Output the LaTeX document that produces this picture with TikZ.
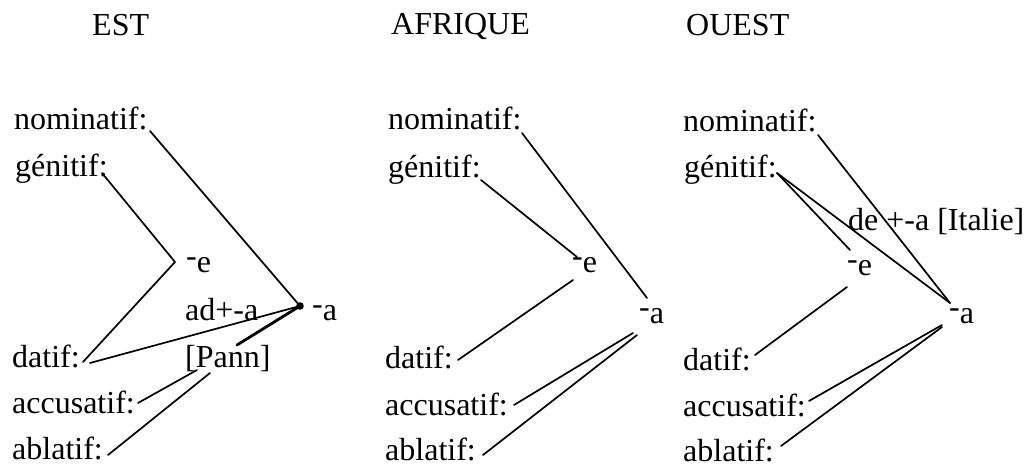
\documentclass[tikz,border=0pt]{standalone}
\usepackage{fontspec}
\setmainfont{Liberation Serif}
\begin{document}
\begin{tikzpicture}[x=1pt,y=-1pt,
  lbl/.style={anchor=base west,inner sep=0pt,font=\fontsize{32}{38}\selectfont},
  conn/.style={line width=1.7pt,line cap=round},
  thick conn/.style={line width=2.8pt,line cap=round}]
\newcommand{\hi}{\raisebox{0.17em}{-}}
\useasboundingbox (0,0) rectangle (1031,468);
% ---------------- EST ----------------
\node[lbl] (tE) at (92,36) {EST};
\node[lbl] (nomE) at (14,130) {nominatif:};
\node[lbl] (genE) at (15,177) {génitif:};
\node[lbl] (datE) at (12,367) {datif:};
\node[lbl] (accE) at (12,413) {accusatif:};
\node[lbl] (ablE) at (12,459) {ablatif:};
\node[lbl] (eE) at (186,272) {\hi e};
\node[lbl] (adE) at (185,320) {ad+-a};
\node[lbl] (aE) at (312,320) {\hi a};
\node[lbl] (pannE) at (185,367) {[Pann]};
\coordinate (vE) at (175,262);
\coordinate (AE) at (300,306);
\coordinate (nomEx) at (150,131);
\coordinate (genEx) at (102,173);
\coordinate (datEx1) at (83,362);
\coordinate (datEx2) at (90,363);
\coordinate (pannEx) at (237,345);
\coordinate (pannEa) at (197,370);
\coordinate (pannEb) at (210,373);
\coordinate (accEx) at (138,403);
\coordinate (ablEx) at (108,455);
\draw[conn] (nomEx) -- (AE);
\draw[conn] (genEx) -- (vE) -- (datEx1);
\draw[conn] (datEx2) -- (AE);
\draw[thick conn] (pannEx) -- (AE);
\fill (AE) circle (3.8);
\draw[conn] (accEx) -- (pannEa);
\draw[conn] (ablEx) -- (pannEb);
% ---------------- AFRIQUE ----------------
\node[lbl] (tA) at (391,35) {AFRIQUE};
\node[lbl] (nomA) at (388,130) {nominatif:};
\node[lbl] (genA) at (388,178) {génitif:};
\node[lbl] (datA) at (385,368) {datif:};
\node[lbl] (accA) at (385,415) {accusatif:};
\node[lbl] (ablA) at (385,460) {ablatif:};
\node[lbl] (eA) at (572,272) {\hi e};
\node[lbl] (aA) at (639,323) {\hi a};
\coordinate (nomAx) at (522,133);
\coordinate (nomAy) at (647,298);
\coordinate (genAx) at (481,180);
\coordinate (eAt) at (577,257);
\coordinate (eAb) at (573,280);
\coordinate (datAx) at (458,360);
\coordinate (aAb1) at (633,333);
\coordinate (aAb2) at (637,335);
\coordinate (accAx) at (514,405);
\coordinate (ablAx) at (483,455);
\draw[conn] (nomAx) -- (nomAy);
\draw[conn] (genAx) -- (eAt);
\draw[conn] (eAb) -- (datAx);
\draw[conn] (accAx) -- (aAb1);
\draw[conn] (ablAx) -- (aAb2);
% ---------------- OUEST ----------------
\node[lbl] (tO) at (686,36) {OUEST};
\node[lbl] (nomO) at (683,132) {nominatif:};
\node[lbl] (genO) at (684,178) {génitif:};
\node[lbl] (datO) at (683,370) {datif:};
\node[lbl] (accO) at (683,416) {accusatif:};
\node[lbl] (ablO) at (683,461) {ablatif:};
\node[lbl] (deO) at (848,230) {de +-a [Italie]};
\node[lbl] (eO) at (847,275) {\hi e};
\node[lbl] (aO) at (949,323) {\hi a};
\coordinate (nomOx) at (818,135);
\coordinate (AO) at (950,303);
\coordinate (genOx) at (777,173);
\coordinate (eOt) at (850,250);
\coordinate (eOb) at (847,287);
\coordinate (datOx) at (755,355);
\coordinate (aOb1) at (942,325);
\coordinate (aOb2) at (942,327);
\coordinate (accOx) at (809,401);
\coordinate (ablOx) at (781,446);
\draw[conn] (nomOx) -- (AO);
\draw[conn] (genOx) -- (eOt);
\draw[conn] (genOx) -- (AO);
\draw[conn] (eOb) -- (datOx);
\draw[conn] (accOx) -- (aOb1);
\draw[conn] (ablOx) -- (aOb2);
\end{tikzpicture}
\end{document}
